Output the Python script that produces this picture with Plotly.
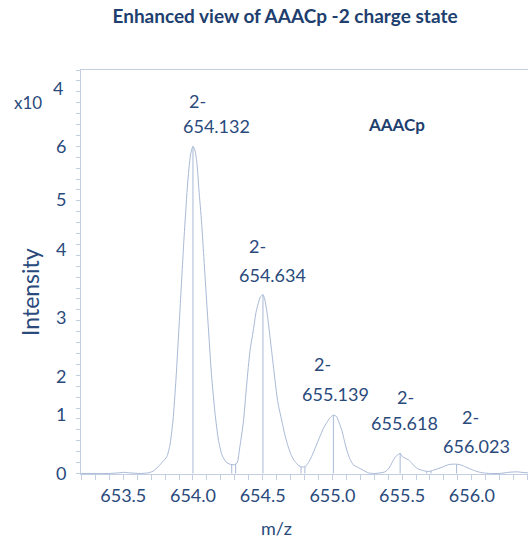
import numpy as np
import plotly.graph_objects as go

# Profile spectrum of the AAACp [M-2H]2- isotope cluster (intensity in units of 1e4)
profile_mz = [
    653.329, 653.429, 653.537, 653.594, 653.637, 653.680, 653.752, 653.809, 653.845,
    653.881, 653.917, 653.945, 653.967, 653.989, 654.010, 654.039, 654.067, 654.093,
    654.114, 654.132, 654.146, 654.160, 654.175, 654.194, 654.218, 654.242, 654.265,
    654.290, 654.315, 654.340, 654.369, 654.397, 654.426, 654.448, 654.469, 654.493,
    654.517, 654.541, 654.565, 654.584, 654.600, 654.616, 654.634, 654.648, 654.666,
    654.684, 654.702, 654.720, 654.741, 654.768, 654.792, 654.815, 654.838, 654.863,
    654.892, 654.913, 654.939, 654.960, 654.983, 655.014, 655.043, 655.068, 655.091,
    655.115, 655.139, 655.163, 655.180, 655.199, 655.216, 655.235, 655.259, 655.282,
    655.309, 655.331, 655.359, 655.390, 655.438, 655.510, 655.539, 655.560, 655.582,
    655.600, 655.618, 655.633, 655.654, 655.678, 655.701, 655.725, 655.750, 655.773,
    655.804, 655.832, 655.868, 655.904, 655.933, 655.963, 655.990, 656.023, 656.047,
    656.071, 656.105, 656.143, 656.177, 656.214, 656.263, 656.334, 656.392, 656.454,
    656.492, 656.535,
]
profile_int = [
    0.00, 0.00, 0.00, 0.01, 0.02, 0.01, 0.00, 0.01, 0.04,
    0.12, 0.22, 0.31, 0.52, 0.98, 1.72, 3.00, 4.28, 5.29,
    5.84, 6.00, 5.93, 5.70, 5.20, 4.60, 3.64, 2.69, 1.81,
    1.11, 0.61, 0.34, 0.21, 0.17, 0.16, 0.19, 0.50, 0.93,
    1.62, 2.25, 2.63, 2.95, 3.12, 3.24, 3.28, 3.18, 2.90,
    2.51, 2.12, 1.72, 1.30, 0.98, 0.70, 0.49, 0.33, 0.22,
    0.14, 0.12, 0.13, 0.20, 0.31, 0.50, 0.68, 0.83, 0.93,
    1.02, 1.07, 1.04, 0.93, 0.80, 0.62, 0.43, 0.26, 0.16,
    0.12, 0.09, 0.05, 0.01, 0.00, 0.03, 0.10, 0.20, 0.30,
    0.34, 0.37, 0.31, 0.28, 0.25, 0.19, 0.12, 0.08, 0.06,
    0.04, 0.04, 0.07, 0.10, 0.13, 0.16, 0.17, 0.17, 0.16,
    0.14, 0.10, 0.06, 0.03, 0.01, 0.00, 0.00, 0.02, 0.03,
    0.02, 0.01,
]

# Centroided isotope peaks
peak_mz = [654.132, 654.634, 655.139, 655.618, 656.023]
peak_int = [6.00, 3.28, 1.07, 0.37, 0.17]
peak_charge = ["2-", "2-", "2-", "2-", "2-"]

# Integration boundaries in the valleys between isotopes
valley_mz = [654.410, 654.438, 654.907, 654.935, 655.808, 655.839]

# Axis labelling: the m/z scale is printed with a fixed calibration offset
x_tick_text = ["653.5", "654.0", "654.5", "655.0", "655.5", "656.0"]
mz_offset = 0.132
y_tick_text = ["0", "1", "2", "3", "4", "5", "6"]
y_tick_pos = [0.0, 1.07, 1.78, 2.85, 4.10, 5.02, 6.0]

NAVY = "#2a4a7c"
TITLE_NAVY = "#203e6e"
LINE = "#a9b9d6"
AXIS = "#c3cfe0"
FONT = "Lato, 'Open Sans', sans-serif"

fig = go.Figure()

fig.add_trace(go.Scatter(
    x=profile_mz, y=profile_int, mode="lines",
    line=dict(color=LINE, width=1, shape="spline", smoothing=0.6),
    hoverinfo="skip", showlegend=False,
))

# centroid sticks
stick_x, stick_y = [], []
for m, h in zip(peak_mz, peak_int):
    stick_x += [m, m, None]
    stick_y += [0, h, None]
fig.add_trace(go.Scatter(
    x=stick_x, y=stick_y, mode="lines",
    line=dict(color=LINE, width=1), hoverinfo="skip", showlegend=False,
))

# valley boundary markers, up to the profile
valley_h = np.interp(valley_mz, profile_mz, profile_int)
vx, vy = [], []
for m, h in zip(valley_mz, valley_h):
    vx += [m, m, None]
    vy += [0, float(h), None]
fig.add_trace(go.Scatter(
    x=vx, y=vy, mode="lines",
    line=dict(color=LINE, width=1), hoverinfo="skip", showlegend=False,
))

# peak annotations: charge on top, m/z below
num_dx = [24, 10, 2, 4, 20]
num_dy = [20, 20, 21, 30, 18]
chg_dx = [5, -5, -11, 5, 14]
chg_dy = [45, 49, 51, 56, 47]
for i, (m, h) in enumerate(zip(peak_mz, peak_int)):
    fig.add_annotation(x=m, y=h, text=f"{m:.3f}", showarrow=False,
                       xshift=num_dx[i], yshift=num_dy[i],
                       xanchor="center", yanchor="middle",
                       font=dict(family=FONT, size=18, color=NAVY))
    fig.add_annotation(x=m, y=h, text=peak_charge[i], showarrow=False,
                       xshift=chg_dx[i], yshift=chg_dy[i],
                       xanchor="center", yanchor="middle",
                       font=dict(family=FONT, size=18, color=NAVY))

W, H = 528, 542
L, R, T, B = 81, 0, 70, 68


def px(xpix):
    return (xpix - L) / (W - L - R)


def py(ypix):
    return (H - B - ypix) / (H - T - B)


def label(xpix, ypix, text, size, color=NAVY, angle=0):
    fig.add_annotation(xref="paper", yref="paper", x=px(xpix), y=py(ypix),
                       xanchor="center", yanchor="middle",
                       text=text, textangle=angle, showarrow=False,
                       font=dict(family=FONT, size=size, color=color))


label(396, 124, "<b>AAACp</b>", 17, TITLE_NAVY)
label(28, 103, "x10", 17)
label(58, 88, "4", 18)
label(30, 292, "Intensity", 23, angle=-90)
label(276, 528, "m/z", 18)

fig.update_layout(
    width=W, height=H,
    margin=dict(l=L, r=R, t=T, b=B),
    paper_bgcolor="white", plot_bgcolor="white",
    title=dict(text="<b>Enhanced view of AAACp -2 charge state</b>",
               x=285 / W, xanchor="center", xref="container",
               y=1 - 16 / H, yanchor="middle", yref="container",
               font=dict(family=FONT, size=19, color=TITLE_NAVY)),
)

fig.update_xaxes(
    range=[653.329, 656.535],
    tickmode="array",
    tickvals=[float(t) + mz_offset for t in x_tick_text],
    ticktext=x_tick_text,
    ticks="outside", ticklen=5, tickcolor=AXIS,
    minor=dict(ticks="outside", ticklen=5, tickcolor=AXIS,
               tick0=653.5 + mz_offset, dtick=0.1, showgrid=False),
    showline=True, linecolor=AXIS, linewidth=1, mirror=True,
    showgrid=False, zeroline=False,
    tickfont=dict(family=FONT, size=18, color=NAVY),
)
fig.update_yaxes(
    range=[-0.01, 7.40],
    tickmode="array", tickvals=y_tick_pos, ticktext=y_tick_text,
    ticks="", ticklabelstandoff=10,
    minor=dict(ticks="outside", ticklen=4, tickcolor=AXIS,
               tick0=0, dtick=0.2, showgrid=False),
    showline=True, linecolor=AXIS, linewidth=1,
    showgrid=False, zeroline=False,
    tickfont=dict(family=FONT, size=18, color=NAVY),
)

fig.write_html("out.html")
